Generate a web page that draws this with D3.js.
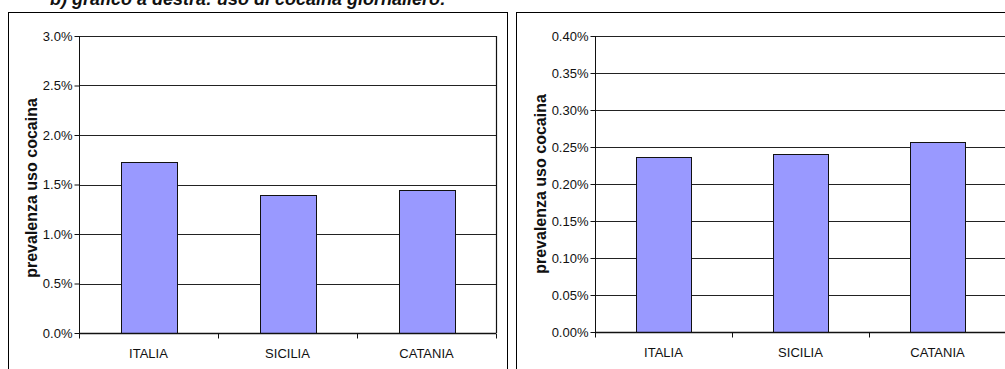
<!DOCTYPE html>
<html>
<head>
<meta charset="utf-8">
<script src="https://cdn.jsdelivr.net/npm/d3@7"></script>
<style>
  html, body { margin: 0; padding: 0; background: #fff; }
  svg { display: block; }
  text { font-family: "Liberation Sans", Arial, sans-serif; fill: #111; }
</style>
</head>
<body>
<svg id="chart" width="1005" height="369"></svg>
<script>
// Data
const categories = ["ITALIA", "SICILIA", "CATANIA"];
const annualUse = [0.01727, 0.01397, 0.01444];      // prevalenza uso cocaina (ultimi 12 mesi)
const dailyUse = [0.002369, 0.002405, 0.002572];    // prevalenza uso cocaina giornaliero
const annualTicks = [0, 0.005, 0.01, 0.015, 0.02, 0.025, 0.03];
const dailyTicks = [0, 0.0005, 0.001, 0.0015, 0.002, 0.0025, 0.003, 0.0035, 0.004];
const titleText = "b) grafico a destra: uso di cocaina giornaliero:";
const yTitle = "prevalenza uso cocaina";

const svg = d3.select("#chart");

// Page heading (runs off the top of the page)
svg.append("text")
  .attr("x", 50).attr("y", 5)
  .style("font-size", "18px").style("font-weight", "bold").style("font-style", "italic")
  .text(titleText);

function drawPanel(opts) {
  const g = svg.append("g");
  // panel frame
  g.append("rect")
    .attr("x", opts.frame[0] + 0.5).attr("y", opts.frame[1] + 0.5)
    .attr("width", opts.frame[2]).attr("height", opts.frame[3])
    .attr("fill", "#fff").attr("stroke", "#000").attr("stroke-width", 1);

  const x = d3.scaleBand().domain(categories).range([opts.left, opts.right]).paddingInner(0).paddingOuter(0);
  const y = d3.scaleLinear().domain([0, opts.max]).range([opts.bottom, opts.top]);
  const barW = x.bandwidth() * 0.4;

  // gridlines
  g.append("g").selectAll("line").data(opts.ticks.slice(1)).join("line")
    .attr("x1", opts.left).attr("x2", opts.right)
    .attr("y1", d => Math.round(y(d)) + 0.5).attr("y2", d => Math.round(y(d)) + 0.5)
    .attr("stroke", "#222").attr("stroke-width", 1);

  // plot right edge
  g.append("line")
    .attr("x1", opts.right + 0.5).attr("x2", opts.right + 0.5)
    .attr("y1", opts.top).attr("y2", opts.bottom)
    .attr("stroke", "#111").attr("stroke-width", 1.2);

  // bars
  g.append("g").selectAll("rect").data(opts.values).join("rect")
    .attr("x", (d, i) => Math.round(x(categories[i]) + (x.bandwidth() - barW) / 2) + 0.5)
    .attr("y", d => Math.round(y(d)) + 0.5)
    .attr("width", Math.round(barW))
    .attr("height", d => Math.round(y(0)) - Math.round(y(d)))
    .attr("fill", "#9999ff").attr("stroke", "#111").attr("stroke-width", 1);

  // y axis
  const yAxis = d3.axisLeft(y).tickValues(opts.ticks).tickSize(5).tickPadding(2)
    .tickFormat(d3.format(opts.fmt));
  const ya = g.append("g").attr("transform", `translate(${opts.left + 0.5},0)`).call(yAxis);
  ya.select(".domain").attr("stroke", "#111").attr("d", `M0,${opts.top}V${opts.bottom}`);
  ya.selectAll(".tick line").attr("stroke", "#111");
  ya.selectAll(".tick text").style("font-size", "13px").attr("fill", "#222")
    .style("font-family", "'Liberation Sans', Arial, sans-serif");

  // x axis
  const xa = g.append("g").attr("transform", `translate(0,${Math.round(y(0)) + 0.5})`);
  xa.append("line").attr("x1", opts.left).attr("x2", opts.right)
    .attr("stroke", "#111").attr("stroke-width", 1.5);
  const bounds = categories.map(c => x(c)).concat([opts.right]);
  xa.selectAll("line.tk").data(bounds).join("line").attr("class", "tk")
    .attr("x1", d => Math.round(d) + 0.5).attr("x2", d => Math.round(d) + 0.5)
    .attr("y1", 0).attr("y2", 5).attr("stroke", "#111");
  xa.selectAll("text").data(categories).join("text")
    .attr("x", d => x(d) + x.bandwidth() / 2).attr("y", 24)
    .attr("text-anchor", "middle").style("font-size", "13px").attr("fill", "#222")
    .text(d => d);

  // y axis title
  g.append("text")
    .attr("transform", `translate(${opts.titleX},${opts.titleY}) rotate(-90)`)
    .attr("text-anchor", "middle")
    .style("font-size", "16px").style("font-weight", "bold")
    .text(yTitle);
}

drawPanel({
  frame: [8, 12, 499, 380],
  left: 79, right: 496, top: 36, bottom: 333,
  max: 0.03, ticks: annualTicks, values: annualUse, fmt: ".1%", titleX: 37, titleY: 188
});

drawPanel({
  frame: [516, 12, 520, 380],
  left: 595, right: 1006, top: 36, bottom: 332,
  max: 0.004, ticks: dailyTicks, values: dailyUse, fmt: ".2%", titleX: 546, titleY: 184
});
</script>
</body>
</html>
